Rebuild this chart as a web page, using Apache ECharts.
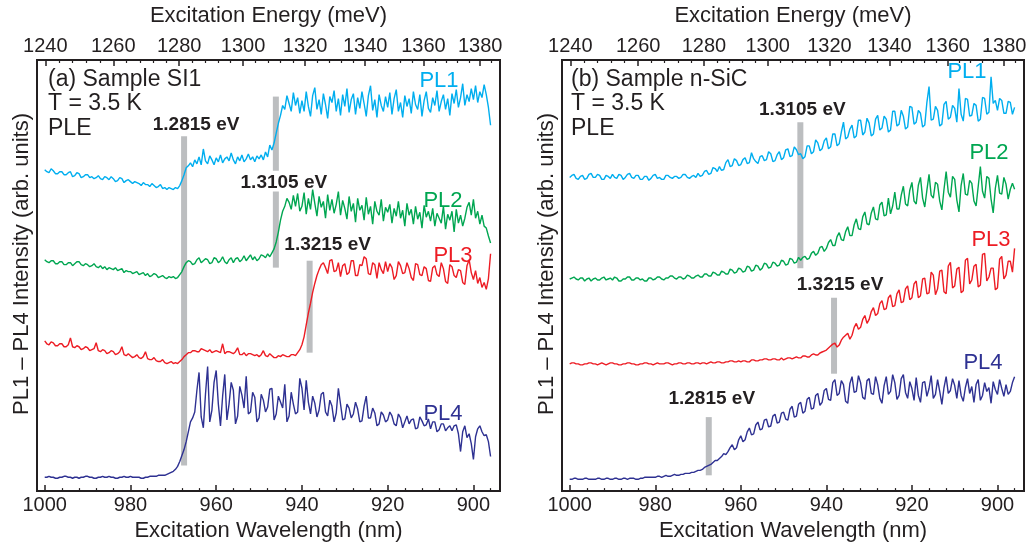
<!DOCTYPE html>
<html>
<head>
<meta charset="utf-8">
<script src="https://cdn.jsdelivr.net/npm/echarts@6/dist/echarts.min.js"></script>
<style>
  html, body { margin: 0; padding: 0; background: #fff; }
  #chart { width: 1036px; height: 547px; }
</style>
</head>
<body>
<div id="chart"></div>
<script>
// Sampling grid of the excitation scan (nm), 0.5 nm steps
const wavelengthNm = [
  1000,999.5,999,998.5,998,997.5,997,996.5,996,995.5,995,994.5,994,993.5,993,992.5,992,991.5,991,990.5,
  990,989.5,989,988.5,988,987.5,987,986.5,986,985.5,985,984.5,984,983.5,983,982.5,982,981.5,981,980.5,
  980,979.5,979,978.5,978,977.5,977,976.5,976,975.5,975,974.5,974,973.5,973,972.5,972,971.5,971,970.5,
  970,969.5,969,968.5,968,967.5,967,966.5,966,965.5,965,964.5,964,963.5,963,962.5,962,961.5,961,960.5,
  960,959.5,959,958.5,958,957.5,957,956.5,956,955.5,955,954.5,954,953.5,953,952.5,952,951.5,951,950.5,
  950,949.5,949,948.5,948,947.5,947,946.5,946,945.5,945,944.5,944,943.5,943,942.5,942,941.5,941,940.5,
  940,939.5,939,938.5,938,937.5,937,936.5,936,935.5,935,934.5,934,933.5,933,932.5,932,931.5,931,930.5,
  930,929.5,929,928.5,928,927.5,927,926.5,926,925.5,925,924.5,924,923.5,923,922.5,922,921.5,921,920.5,
  920,919.5,919,918.5,918,917.5,917,916.5,916,915.5,915,914.5,914,913.5,913,912.5,912,911.5,911,910.5,
  910,909.5,909,908.5,908,907.5,907,906.5,906,905.5,905,904.5,904,903.5,903,902.5,902,901.5,901,900.5,
  900,899.5,899,898.5,898,897.5,897,896.5,896
];

// (a) Sample SI1 — PLE traces, vertically offset (arb. units)
const siPL1 = [
  325,323,322,326,324,321,321,323,323,320,320,322,323,318,319,322,321,317,318,320,
  320,317,318,316,317,319,316,315,318,317,315,318,316,313,314,317,316,312,314,315,
  313,311,313,312,311,309,312,310,310,308,311,309,307,308,310,306,307,305,307,306,
  305,307,306,309,314,320,327,329,332,328,335,331,338,330,346,334,331,339,335,330,
  337,333,340,332,336,338,334,342,335,331,338,334,340,333,336,341,335,338,333,339,
  336,340,335,343,338,350,345,352,362,372,380,390,386,400,392,384,403,390,398,382,
  395,384,404,389,379,400,408,386,396,381,402,391,377,399,393,405,384,397,380,401,
  389,407,383,396,402,381,398,387,404,392,379,400,410,385,396,378,401,390,384,399,
  388,403,381,397,406,384,393,378,400,389,397,382,404,391,386,401,379,395,404,387,
  383,398,390,405,384,394,401,386,397,380,402,392,406,388,398,412,390,401,394,407,
  396,410,393,404,398,411,401,388,370
];
const siPL2 = [
  234,232,231,233,233,230,230,232,232,229,229,231,231,228,230,232,232,229,228,230,
  229,227,228,230,227,226,228,225,227,224,226,225,224,226,223,224,225,221,223,222,
  222,220,221,222,219,220,221,218,220,217,218,220,219,216,217,218,216,215,217,216,
  217,215,216,219,222,227,231,233,232,229,230,234,236,231,233,235,234,230,231,236,
  235,231,233,237,232,230,234,236,231,235,236,232,234,238,233,236,239,234,237,233,
  235,239,238,236,240,237,241,245,252,262,274,283,288,296,292,285,299,288,301,283,
  288,302,280,296,285,305,291,278,298,287,293,276,300,284,295,281,290,303,279,294,
  286,275,298,283,291,272,296,284,289,274,297,280,288,270,293,283,279,295,273,287,
  282,290,271,286,278,293,276,284,268,291,279,285,270,288,275,282,266,289,277,283,
  273,286,268,281,276,271,288,265,280,274,283,262,285,271,279,268,276,287,292,279,
  295,276,283,270,279,268,266,258,251
];
const siPL3 = [
  152,149,148,151,150,147,147,149,149,146,146,148,155,146,145,147,146,143,144,146,
  145,142,143,144,150,142,141,143,142,139,140,142,141,138,139,141,146,138,137,139,
  137,135,136,138,135,134,136,141,134,133,133,135,132,131,131,133,130,129,130,131,
  129,130,129,131,133,136,138,140,140,142,142,141,141,144,143,142,141,143,140,141,
  142,141,140,149,139,141,141,140,139,141,145,138,138,140,137,139,139,138,137,138,
  136,138,142,137,136,139,137,135,135,137,136,138,137,136,136,138,138,137,140,143,
  148,156,168,180,190,201,210,218,224,229,231,226,220,233,234,222,223,231,217,228,
  230,219,221,233,233,218,218,229,228,237,235,220,219,231,229,215,231,224,220,232,
  222,230,226,214,218,232,228,220,221,231,225,216,213,230,229,219,218,227,225,213,
  212,226,228,219,217,231,225,212,210,229,227,218,216,224,223,211,209,228,234,221,
  214,223,210,216,206,211,204,215,240
];
const siPL4 = [
  14,14,15,14,14,13,13,14,14,15,15,14,14,13,14,14,13,14,14,15,
  15,14,14,13,13,14,14,15,14,14,15,14,14,13,13,14,14,15,14,14,
  15,14,14,14,14,13,13,14,14,15,15,15,15,16,16,16,16,17,18,19,
  20,22,25,30,36,42,50,60,70,74,80,102,120,75,64,98,126,70,82,110,
  122,88,66,96,118,72,88,110,102,68,76,106,97,84,116,78,80,100,95,70,
  74,98,92,80,85,103,104,72,78,96,90,84,108,70,76,100,88,78,80,114,
  104,82,112,90,78,96,89,75,82,98,100,80,76,92,86,70,79,104,88,72,
  73,88,84,74,78,90,83,70,71,86,96,74,74,84,79,66,68,80,77,70,
  72,80,76,68,66,78,74,64,70,76,68,72,73,63,64,75,71,66,67,73,
  63,70,70,60,62,68,68,61,64,66,61,66,67,58,40,60,66,54,58,48,
  32,55,63,66,60,56,57,50,35
];

// (b) Sample n-SiC — PLE traces, vertically offset (arb. units)
const nPL1 = [
  318,320,321,317,316,319,320,316,317,321,322,318,318,321,320,316,316,320,319,317,
  321,318,317,321,320,316,318,321,322,318,317,320,320,316,316,319,319,315,317,320,
  321,317,318,316,316,320,320,318,317,319,319,317,318,321,321,318,317,319,320,318,
  322,319,320,324,325,321,322,328,327,324,329,325,326,333,336,329,330,337,335,330,
  331,336,338,332,333,343,337,334,332,339,340,335,336,344,342,334,335,341,344,336,
  338,346,347,339,340,349,346,341,342,337,339,350,350,342,344,356,353,345,347,355,
  358,347,349,362,362,350,352,364,374,357,359,367,371,358,360,376,376,361,364,378,
  373,360,362,377,381,366,368,380,377,364,366,385,385,370,372,386,380,367,369,390,
  389,372,374,386,383,369,371,394,410,376,377,390,386,370,372,392,395,377,379,391,
  388,374,408,382,375,398,397,380,381,393,391,375,377,399,398,382,384,420,393,396,
  386,398,396,383,383,395,394,382,389
];
const nPL2 = [
  215,216,217,215,214,216,216,213,215,216,213,215,216,214,214,216,217,214,215,216,
  214,217,216,213,213,215,215,217,217,214,214,216,216,214,215,213,213,216,216,214,
  215,217,217,215,214,216,216,218,218,216,215,217,217,215,216,219,218,216,216,218,
  219,217,217,220,220,218,218,222,221,219,219,223,222,220,220,225,224,221,222,226,
  225,222,223,228,227,223,224,229,228,224,226,231,230,226,227,232,231,228,229,234,
  233,229,230,236,235,231,232,237,234,237,238,235,236,241,243,239,241,247,248,243,
  246,252,255,249,249,258,262,255,254,263,268,259,259,270,276,266,265,278,283,271,
  270,282,288,276,275,290,293,279,280,297,281,289,303,286,286,300,309,291,289,305,
  313,294,291,310,318,297,288,305,321,300,297,313,311,294,285,306,324,303,298,319,
  316,295,283,310,322,301,300,315,312,294,289,309,329,304,297,319,317,296,282,307,
  320,302,301,318,311,296,306,312,306
];
const nPL3 = [
  129,130,130,129,129,128,128,129,129,130,130,129,129,128,129,130,129,128,129,130,
  130,129,129,128,128,129,129,130,130,129,129,128,128,129,129,130,130,129,129,128,
  129,130,129,129,129,130,130,129,128,129,129,130,130,129,129,130,130,129,129,130,
  130,129,130,130,129,130,131,130,130,131,131,130,130,131,131,132,132,131,131,132,
  131,132,132,131,131,133,133,132,132,133,133,134,134,133,133,134,134,133,133,135,
  133,134,135,135,134,135,136,135,135,137,137,136,136,138,139,138,138,140,141,142,
  143,145,147,149,150,146,148,153,156,158,160,154,158,166,170,164,166,174,178,170,
  174,182,186,178,180,190,193,184,185,196,199,187,188,200,204,191,192,205,208,194,
  196,210,213,196,198,215,216,200,201,222,219,199,205,223,224,202,200,228,232,206,
  208,225,227,201,203,234,236,210,214,228,230,207,209,240,241,213,217,226,226,204,
  206,235,238,215,219,233,233,222,246
];
const nPL4 = [
  12,12,13,13,12,12,12,13,13,12,12,12,12,13,13,12,12,13,13,12,
  12,13,13,12,12,13,13,12,13,13,13,12,12,13,13,14,14,14,14,14,
  14,15,15,14,15,16,15,15,16,17,16,16,17,17,18,18,18,19,19,20,
  21,21,22,24,25,26,27,29,31,31,33,35,38,37,40,44,47,42,44,52,
  56,50,52,60,64,57,58,67,70,62,63,72,73,65,66,76,78,69,70,79,
  80,73,72,83,86,75,76,88,90,79,81,93,95,83,84,97,99,87,90,102,
  104,93,92,110,113,97,99,112,108,91,89,109,116,100,101,117,110,95,93,112,
  114,99,98,116,108,94,89,107,116,98,101,118,110,93,97,114,118,100,94,111,
  104,92,115,97,90,110,111,96,104,117,94,98,113,101,88,105,116,99,102,114,
  107,94,112,97,91,105,114,99,106,90,108,113,92,97,110,101,105,89,111,103,
  98,113,104,96,108,98,101,110,116
];

// Absorption onsets (eV) marked by grey bars, with the span each bar covers
const siBarEnergiesEV = [1.2815, 1.3105, 1.3105, 1.3215];
const siBarLow  = [26, 324, 226, 140];
const siBarHigh = [359, 399, 303, 233];
const siBarLabelled = [true, false, true, true];

const nBarEnergiesEV = [1.3105, 1.3215, 1.2815];
const nBarLow  = [226, 119, 16];
const nBarHigh = [374, 196, 75];
const nBarLabelled = [true, true, true];

// Axis ticks
const wavelengthTicksNm = [1000, 980, 960, 940, 920, 900];
const wavelengthMinorNm = [996,992,988,984,976,972,968,964,956,952,948,944,936,932,928,924,916,912,908,904,896];
const energyTicksMeV = [1240, 1260, 1280, 1300, 1320, 1340, 1360, 1380];
const energyMinorMeV = [1244,1248,1252,1256,1264,1268,1272,1276,1284,1288,1292,1296,
  1304,1308,1312,1316,1324,1328,1332,1336,1344,1348,1352,1356,1364,1368,1372,1376,1384];

const HC_EV_NM = 1239.84;           // photon energy (eV) * wavelength (nm)
const toNm = (meV) => HC_EV_NM * 1000 / meV;

const INK = '#231f20';
const FONT = '"Liberation Sans", Arial, Helvetica, sans-serif';
const COLORS = ['#00aeef', '#00a651', '#ed1c24', '#2e3192'];
const BAR_GREY = '#bcbec0';
const X_MIN = 893.8, X_MAX = 1001.8;

const grids = [
  { left: 37, top: 60, width: 463, height: 436 },
  { left: 562, top: 59, width: 462, height: 437 }
];

function axesFor(g) {
  const common = { gridIndex: g, type: 'value', min: X_MIN, max: X_MAX, inverse: true,
    axisLine: { show: false }, splitLine: { show: false } };
  return [
    Object.assign({}, common, {
      position: 'bottom',
      axisTick: { show: true, inside: true, length: 6, customValues: wavelengthTicksNm,
        lineStyle: { color: INK, width: 1.5 } },
      axisLabel: { customValues: wavelengthTicksNm, margin: 4, fontSize: 20, color: INK,
        fontFamily: FONT, formatter: (v) => String(v) },
      name: 'Excitation Wavelength (nm)', nameLocation: 'middle', nameGap: 27,
      nameTextStyle: { fontSize: 22, color: INK, fontFamily: FONT }
    }),
    Object.assign({}, common, {
      position: 'bottom',
      axisTick: { show: true, inside: true, length: 3, customValues: wavelengthMinorNm,
        lineStyle: { color: INK, width: 1.2 } },
      axisLabel: { show: false }
    }),
    Object.assign({}, common, {
      position: 'top',
      axisTick: { show: true, inside: true, length: 6, customValues: energyTicksMeV.map(toNm),
        lineStyle: { color: INK, width: 1.5 } },
      axisLabel: { customValues: energyTicksMeV.map(toNm), margin: 4, fontSize: 20, color: INK,
        fontFamily: FONT, formatter: (v) => String(Math.round(HC_EV_NM * 1000 / v)) },
      name: 'Excitation Energy (meV)', nameLocation: 'middle', nameGap: 33,
      nameTextStyle: { fontSize: 22, color: INK, fontFamily: FONT }
    }),
    Object.assign({}, common, {
      position: 'top',
      axisTick: { show: true, inside: true, length: 3, customValues: energyMinorMeV.map(toNm),
        lineStyle: { color: INK, width: 1.2 } },
      axisLabel: { show: false }
    })
  ];
}

const xAxes = axesFor(0).concat(axesFor(1));
const yAxes = [
  { gridIndex: 0, type: 'value', min: 0, max: 436, show: false },
  { gridIndex: 1, type: 'value', min: 0, max: 437, show: false }
];

function curveSeries(values, color, panel) {
  return {
    type: 'line', xAxisIndex: panel * 4, yAxisIndex: panel,
    data: wavelengthNm.map((w, i) => [w, values[i]]),
    showSymbol: false, symbol: 'none', z: 3,
    lineStyle: { width: 1.4, color: color },
    emphasis: { disabled: true }
  };
}

function barSeries(energies, low, high, labelled, offsets, panel) {
  return energies.map((e, i) => ({
    type: 'line', xAxisIndex: panel * 4, yAxisIndex: panel, z: 2,
    symbol: 'circle', symbolSize: 0, showSymbol: true,
    lineStyle: { width: 6, color: BAR_GREY, cap: 'butt' },
    emphasis: { disabled: true },
    data: [
      { value: [HC_EV_NM / e, low[i]] },
      { value: [HC_EV_NM / e, high[i]],
        label: { show: labelled[i], position: 'top', distance: 2, offset: offsets[i],
          formatter: e.toFixed(4) + ' eV', fontSize: 19, fontWeight: 'bold',
          color: INK, fontFamily: FONT } }
    ]
  }));
}

const series = []
  .concat(barSeries(siBarEnergiesEV, siBarLow, siBarHigh, siBarLabelled,
    [[12, 0], [0, 0], [8, 3], [18, -4]], 0))
  .concat(barSeries(nBarEnergiesEV, nBarLow, nBarHigh, nBarLabelled,
    [[2, -1], [6, -1], [3, -7]], 1))
  .concat([siPL1, siPL2, siPL3, siPL4].map((v, k) => curveSeries(v, COLORS[k], 0)))
  .concat([nPL1, nPL2, nPL3, nPL4].map((v, k) => curveSeries(v, COLORS[k], 1)));

function txt(text, x, y, opts) {
  return {
    type: 'text', x: x, y: y, rotation: opts.rotation || 0, silent: true,
    style: Object.assign({ text: text, fill: INK, font: (opts.size || 22) + 'px ' + FONT,
      textAlign: opts.align || 'left', textVerticalAlign: 'middle' }, opts.style || {})
  };
}

const graphics = [
  txt('PL1 \u2013 PL4 Intensity (arb. units)', 22, 264, { rotation: Math.PI / 2, align: 'center' }),
  txt('PL1 \u2013 PL4 Intensity (arb. units)', 547, 264, { rotation: Math.PI / 2, align: 'center' }),
  txt('(a) Sample SI1', 48, 80, { size: 23 }),
  txt('T = 3.5 K', 48, 104, { size: 23 }),
  txt('PLE', 48, 129, { size: 23 }),
  txt('(b) Sample n-SiC', 571, 80, { size: 23 }),
  txt('T = 3.5 K', 571, 104, { size: 23 }),
  txt('PLE', 571, 129, { size: 23 }),
  txt('PL1', 439, 81, { align: 'center', style: { fill: COLORS[0] } }),
  txt('PL2', 443, 201, { align: 'center', style: { fill: COLORS[1] } }),
  txt('PL3', 453, 256, { align: 'center', style: { fill: COLORS[2] } }),
  txt('PL4', 443, 414, { align: 'center', style: { fill: COLORS[3] } }),
  txt('PL1', 967, 72, { align: 'center', style: { fill: COLORS[0] } }),
  txt('PL2', 989, 153, { align: 'center', style: { fill: COLORS[1] } }),
  txt('PL3', 991, 240, { align: 'center', style: { fill: COLORS[2] } }),
  txt('PL4', 983, 363, { align: 'center', style: { fill: COLORS[3] } })
];

const chart = echarts.init(document.getElementById('chart'), null, { renderer: 'canvas' });
chart.setOption({
  animation: false,
  backgroundColor: '#ffffff',
  grid: grids.map(g => Object.assign({ show: true, borderColor: INK, borderWidth: 2,
    backgroundColor: 'transparent' }, g)),
  xAxis: xAxes,
  yAxis: yAxes,
  series: series,
  graphic: graphics
});
</script>
</body>
</html>
